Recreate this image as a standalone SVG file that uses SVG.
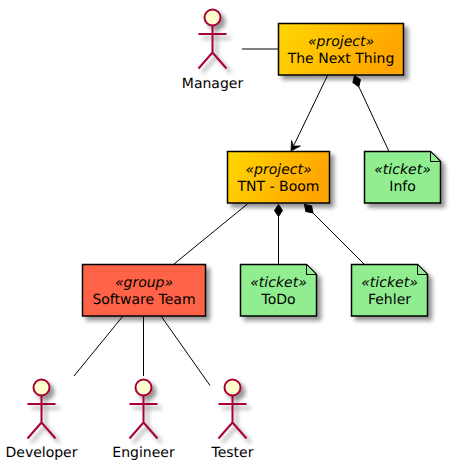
<svg xmlns="http://www.w3.org/2000/svg" width="461" height="469" viewBox="0 0 461 469">
<defs>
<linearGradient id="grad" x1="0" y1="0" x2="1" y2="0.25"><stop offset="0" stop-color="#FFD700"/><stop offset="1" stop-color="#FFA500"/></linearGradient>
<filter id="sh" x="-30%" y="-30%" width="170%" height="170%"><feGaussianBlur in="SourceAlpha" stdDeviation="2"/><feColorMatrix type="matrix" values="0 0 0 0 0 0 0 0 0 0 0 0 0 0 0 0 0 0 0.42 0"/><feOffset dx="4" dy="4" result="s"/><feMerge><feMergeNode in="s"/><feMergeNode in="SourceGraphic"/></feMerge></filter>
<g id="actor"><g fill="none" stroke="#A80036" stroke-width="2"><circle cx="0" cy="0" r="8" fill="#FEFECE"/><path d="M0,8V35M-14,16.500H14M0,35L-14,51M0,35L14,51"/></g></g>
<path id="dia" d="M0,0L-4,6L0,12L4,6Z" fill="#000" stroke="#000"/>
</defs>
<style>
text{font-family:"DejaVu Sans",sans-serif;font-size:14px;fill:#000;text-anchor:middle;text-rendering:geometricPrecision}
.st{font-style:italic}
.box{stroke:#000;stroke-width:1.5;filter:url(#sh)}
.pr{fill:url(#grad)}
.gr{fill:#FF6347}
.tk{fill:#90EE90}
.fold{fill:#90EE90;stroke:#000;stroke-width:1}
.c{fill:none;stroke:#000;stroke-width:1}
</style>
<g id="connectors">
<path class="c" d="M242,49H278"/>
<path class="c" d="M327.500,75.500L294,145"/>
<path d="M291,151L291.500,140.500L293.500,146L300.500,146Z" fill="#000" stroke="#000" stroke-width="0.8"/>
<path class="c" d="M359,87L389,151.500"/>
<use href="#dia" transform="translate(354.500,75.500) rotate(-21)"/>
<path class="c" d="M248,203.500L174,264"/>
<path class="c" d="M278.500,216V264"/>
<use href="#dia" transform="translate(278.500,204.500)"/>
<path class="c" d="M313,213L364,264"/>
<use href="#dia" transform="translate(304.500,204.500) rotate(-45)"/>
<path class="c" d="M123,316L74,376"/>
<path class="c" d="M143.500,316V376"/>
<path class="c" d="M161,316L210,385.500"/>
</g>
<g id="manager"><use href="#actor" x="212.500" y="17.500" filter="url(#sh)"/><text x="212.500" y="88">Manager</text></g>
<g id="next"><rect class="box pr" x="278.500" y="23.500" width="125" height="51.500"/><text class="st" x="341" y="46">«project»</text><text x="341" y="62.500">The Next Thing</text></g>
<g id="tnt"><rect class="box pr" x="227.500" y="151.500" width="102" height="51.500"/><text class="st" x="278.500" y="174">«project»</text><text x="278.500" y="190.500">TNT - Boom</text></g>
<g id="info"><path class="box tk" d="M364.500,151.500H430.500L440.500,161.500V203H364.500Z"/><path class="fold" d="M430.500,151.500V161.500H440.500Z"/><text class="st" x="402.500" y="174">«ticket»</text><text x="402.500" y="190.500">Info</text></g>
<g id="team"><rect class="box gr" x="82.500" y="264.500" width="123" height="51.500"/><text class="st" x="144" y="287">«group»</text><text x="144" y="303.500">Software Team</text></g>
<g id="todo"><path class="box tk" d="M240.500,264.500H306.500L316.500,274.500V316H240.500Z"/><path class="fold" d="M306.500,264.500V274.500H316.500Z"/><text class="st" x="278.500" y="287">«ticket»</text><text x="278.500" y="303.500">ToDo</text></g>
<g id="fehler"><path class="box tk" d="M351.500,264.500H417.500L427.500,274.500V316H351.500Z"/><path class="fold" d="M417.500,264.500V274.500H427.500Z"/><text class="st" x="389.500" y="287">«ticket»</text><text x="389.500" y="303.500">Fehler</text></g>
<g id="developer"><use href="#actor" x="41.500" y="387.500" filter="url(#sh)"/><text x="41.500" y="457">Developer</text></g>
<g id="engineer"><use href="#actor" x="143.500" y="387.500" filter="url(#sh)"/><text x="143.500" y="457">Engineer</text></g>
<g id="tester"><use href="#actor" x="232.500" y="387.500" filter="url(#sh)"/><text x="232.500" y="457">Tester</text></g>
</svg>
